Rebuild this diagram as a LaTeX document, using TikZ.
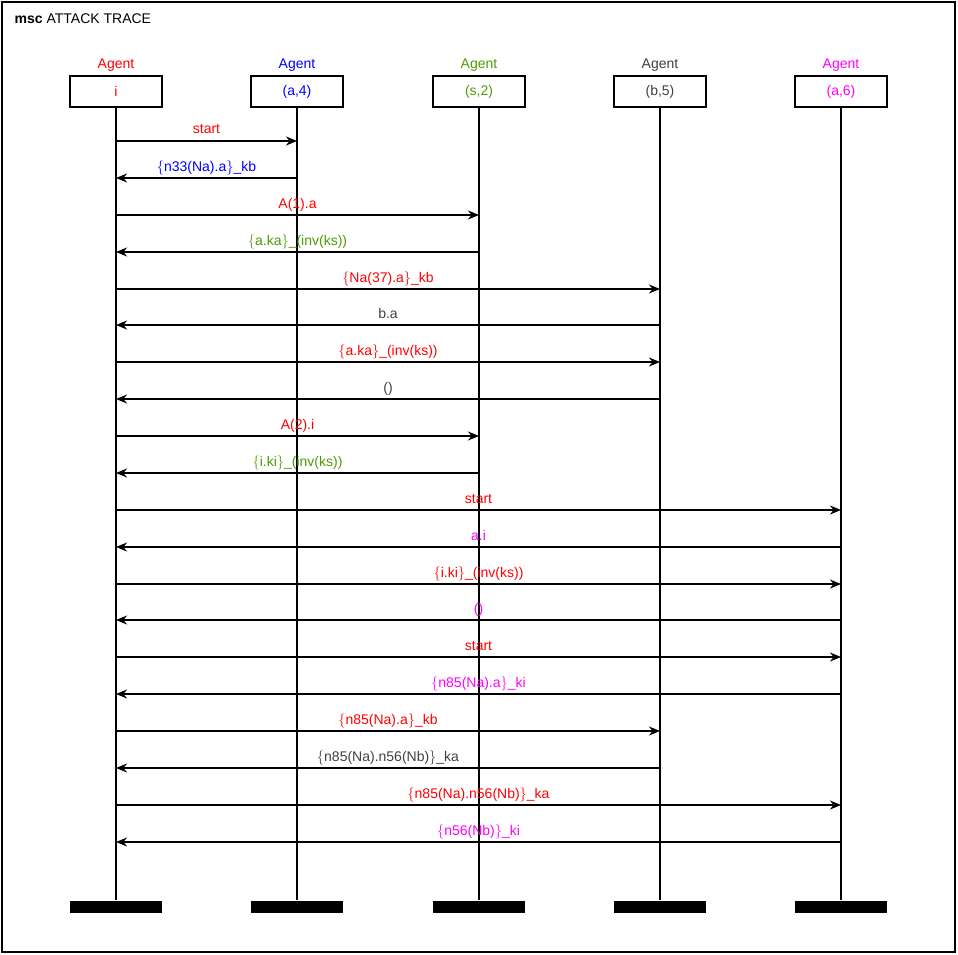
\documentclass[tikz,border=0pt]{standalone}
\usepackage{fontspec}
\setmainfont{Liberation Sans}
\usetikzlibrary{arrows.meta}
\definecolor{agred}{RGB}{255,0,0}
\definecolor{agblue}{RGB}{0,0,255}
\definecolor{aggreen}{RGB}{78,154,6}
\definecolor{aggray}{RGB}{64,64,64}
\definecolor{agmag}{RGB}{255,0,255}
\newcommand{\ob}{$\{$}
\newcommand{\cb}{$\}$}
\begin{document}
\begin{tikzpicture}[x=1pt,y=-1pt,line width=1.3pt,font=\fontsize{14}{16}\selectfont,
  head/.style={draw,line width=1.4pt,minimum width=92pt,minimum height=31pt,inner sep=0pt},
  kind/.style={inner sep=0pt,anchor=base},
  foot/.style={fill=black,minimum width=92pt,minimum height=12pt,inner sep=0pt},
  msg/.style={-{Stealth[length=11pt,width=9pt,inset=3.5pt]}},
  lbl/.style={midway,anchor=base,yshift=7pt,inner sep=0pt}]
\path[use as bounding box] (0,0) rectangle (958,955);
\draw[line width=1.6pt] (2,2) rectangle (955,952);
\node[anchor=base west,inner sep=0pt] (title) at (14,24) {\textbf{msc} ATTACK TRACE};
% instances
\node[kind,text=agred] (ki) at (116,69) {Agent};
\node[head,text=agred] (hi) at (116,91.5) {i};
\node[kind,text=agblue] (ka4) at (297,69) {Agent};
\node[head,text=agblue] (ha4) at (297,91.5) {(a,4)};
\node[kind,text=aggreen] (ks2) at (479,69) {Agent};
\node[head,text=aggreen] (hs2) at (479,91.5) {(s,2)};
\node[kind,text=aggray] (kb5) at (660,69) {Agent};
\node[head,text=aggray] (hb5) at (660,91.5) {(b,5)};
\node[kind,text=agmag] (ka6) at (841,69) {Agent};
\node[head,text=agmag] (ha6) at (841,91.5) {(a,6)};
% instance ends
\node[foot] (ei) at (116,906.5) {};
\node[foot] (ea4) at (297,906.5) {};
\node[foot] (es2) at (479,906.5) {};
\node[foot] (eb5) at (660,906.5) {};
\node[foot] (ea6) at (841,906.5) {};
\draw (hi.south) -- (ei.north);
\draw (ha4.south) -- (ea4.north);
\draw (hs2.south) -- (es2.north);
\draw (hb5.south) -- (eb5.north);
\draw (ha6.south) -- (ea6.north);
% messages
\draw[msg] (hi |- 0,141) -- (ha4 |- 0,141) node[lbl,text=agred] {start};
\draw[msg] (ha4 |- 0,178) -- (hi |- 0,178) node[lbl,text=agblue] {\ob n33(Na).a\cb\_kb};
\draw[msg] (hi |- 0,215) -- (hs2 |- 0,215) node[lbl,text=agred] {A(1).a};
\draw[msg] (hs2 |- 0,252) -- (hi |- 0,252) node[lbl,text=aggreen] {\ob a.ka\cb\_(inv(ks))};
\draw[msg] (hi |- 0,289) -- (hb5 |- 0,289) node[lbl,text=agred] {\ob Na(37).a\cb\_kb};
\draw[msg] (hb5 |- 0,325) -- (hi |- 0,325) node[lbl,text=aggray] {b.a};
\draw[msg] (hi |- 0,362) -- (hb5 |- 0,362) node[lbl,text=agred] {\ob a.ka\cb\_(inv(ks))};
\draw[msg] (hb5 |- 0,399) -- (hi |- 0,399) node[lbl,text=aggray] {()};
\draw[msg] (hi |- 0,436) -- (hs2 |- 0,436) node[lbl,text=agred] {A(2).i};
\draw[msg] (hs2 |- 0,473) -- (hi |- 0,473) node[lbl,text=aggreen] {\ob i.ki\cb\_(inv(ks))};
\draw[msg] (hi |- 0,510) -- (ha6 |- 0,510) node[lbl,text=agred] {start};
\draw[msg] (ha6 |- 0,547) -- (hi |- 0,547) node[lbl,text=agmag] {a.i};
\draw[msg] (hi |- 0,584) -- (ha6 |- 0,584) node[lbl,text=agred] {\ob i.ki\cb\_(inv(ks))};
\draw[msg] (ha6 |- 0,620) -- (hi |- 0,620) node[lbl,text=agmag] {()};
\draw[msg] (hi |- 0,657) -- (ha6 |- 0,657) node[lbl,text=agred] {start};
\draw[msg] (ha6 |- 0,694) -- (hi |- 0,694) node[lbl,text=agmag] {\ob n85(Na).a\cb\_ki};
\draw[msg] (hi |- 0,731) -- (hb5 |- 0,731) node[lbl,text=agred] {\ob n85(Na).a\cb\_kb};
\draw[msg] (hb5 |- 0,768) -- (hi |- 0,768) node[lbl,text=aggray] {\ob n85(Na).n56(Nb)\cb\_ka};
\draw[msg] (hi |- 0,805) -- (ha6 |- 0,805) node[lbl,text=agred] {\ob n85(Na).n56(Nb)\cb\_ka};
\draw[msg] (ha6 |- 0,842) -- (hi |- 0,842) node[lbl,text=agmag] {\ob n56(Nb)\cb\_ki};
\end{tikzpicture}
\end{document}
